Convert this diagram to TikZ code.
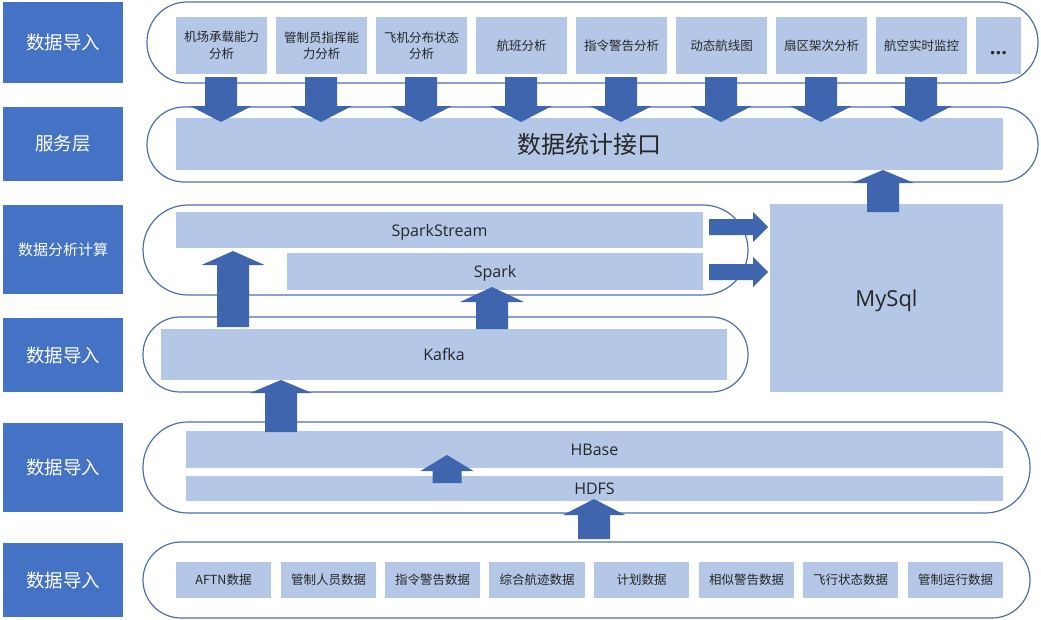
\documentclass[tikz,border=0pt]{standalone}
\usepackage{fontspec}
\setmainfont{Open Sans}
\newfontfamily\cjk{Noto Sans CJK SC}
\definecolor{darkb}{HTML}{4472C4}
\definecolor{lightb}{HTML}{B4C7E7}
\definecolor{arrb}{HTML}{3F65AE}
\definecolor{rimb}{HTML}{4F6FAA}
\tikzset{
  lab/.style={fill=darkb, text=white, inner sep=0pt, font=\cjk\fontsize{18.5}{20}\selectfont},
  cont/.style={draw=rimb, line width=1.2pt},
  ibox/.style={fill=lightb, inner sep=0pt, text=black!85, align=center},
  itemtxt/.style={font=\cjk\fontsize{12.5}{16.5}\selectfont},
  latin/.style={font=\fontsize{16}{18}\selectfont, text depth=0pt},
  blk/.style={fill=arrb},
}
% box from (x1,y1) to (x2,y2), y downwards
\newcommand\bx[6][]{\node[#1, minimum width={#4-#2}, minimum height={#5-#3}] (#6) at ({(#2+#4)/2},{(#3+#5)/2})}
% vertical block arrow: cx, tail y, head-base y, tip y, shaft half, head half
\newcommand\varrow[6]{\fill[blk] (#1-#5,#2) -- (#1-#5,#3) -- (#1-#6,#3) -- (#1,#4) -- (#1+#6,#3) -- (#1+#5,#3) -- (#1+#5,#2) -- cycle;}
% horizontal block arrow: cy, tail x, head-base x, tip x, shaft half, head half
\newcommand\harrow[6]{\fill[blk] (#2,#1-#5) -- (#3,#1-#5) -- (#3,#1-#6) -- (#4,#1) -- (#3,#1+#6) -- (#3,#1+#5) -- (#2,#1+#5) -- cycle;}
\begin{document}
\begin{tikzpicture}[x=1pt,y=-1pt]
\useasboundingbox[fill=white] (0,0) rectangle (1041,619);
% left labels
\bx[lab]{3}{2}{123}{83}{L1} {数据导入};
\bx[lab]{3}{107}{123}{181}{L2} {服务层};
\bx[lab, font=\cjk\fontsize{15}{17}\selectfont]{3}{205}{123}{294}{L3} {数据分析计算};
\bx[lab]{3}{318}{123}{392}{L4} {数据导入};
\bx[lab]{3}{423}{123}{512}{L5} {数据导入};
\bx[lab]{3}{543}{123}{617}{L6} {数据导入};
% containers
\draw[cont, rounded corners=40pt] (147,2) rectangle (1038,83);
\draw[cont, rounded corners=37pt] (147,107) rectangle (1038,182);
\draw[cont, rounded corners=45pt] (143,205) rectangle (748,295);
\draw[cont, rounded corners=37pt] (143,317) rectangle (748,392);
\draw[cont, rounded corners=45pt] (143,422) rectangle (1030,513);
\draw[cont, rounded corners=38pt] (143,542) rectangle (1030,618);
% row 1 items
\bx[ibox,itemtxt]{176}{17}{267}{74}{a1} {机场承载能力\\分析};
\bx[ibox,itemtxt]{276}{17}{367}{74}{a2} {管制员指挥能\\力分析};
\bx[ibox,itemtxt]{376}{17}{467}{74}{a3} {飞机分布状态\\分析};
\bx[ibox,itemtxt]{476}{17}{567}{74}{a4} {航班分析};
\bx[ibox,itemtxt]{576}{17}{667}{74}{a5} {指令警告分析};
\bx[ibox,itemtxt]{676}{17}{767}{74}{a6} {动态航线图};
\bx[ibox,itemtxt]{776}{17}{867}{74}{a7} {扇区架次分析};
\bx[ibox,itemtxt]{876}{17}{967}{74}{a8} {航空实时监控};
\bx[ibox,font=\bfseries\fontsize{20}{22}\selectfont, text height=17pt, text depth=0pt]{976}{17}{1021}{74}{a9} {...};
% row 2
\bx[ibox,font=\cjk\fontsize{24}{26}\selectfont]{176}{118}{1003}{170}{api} {数据统计接口};
% analysis
\bx[ibox,latin]{176}{212}{703}{248}{ss} {SparkStream};
\bx[ibox,latin]{287}{253}{703}{290}{sp} {Spark};
\bx[ibox,latin,font=\fontsize{22}{24}\selectfont]{770}{204}{1003}{392}{my} {MySql};
\bx[ibox,latin]{161}{329}{727}{380}{kf} {Kafka};
\bx[ibox,latin]{186}{431}{1003}{468}{hb} {HBase};
\bx[ibox,latin]{186}{476}{1003}{501}{hd} {HDFS};
% row 6 items
\bx[ibox,itemtxt]{176}{562}{271}{598}{d1} {AFTN数据};
\bx[ibox,itemtxt]{281}{562}{376}{598}{d2} {管制人员数据};
\bx[ibox,itemtxt]{385}{562}{480}{598}{d3} {指令警告数据};
\bx[ibox,itemtxt]{489}{562}{585}{598}{d4} {综合航迹数据};
\bx[ibox,itemtxt]{594}{562}{689}{598}{d5} {计划数据};
\bx[ibox,itemtxt]{699}{562}{794}{598}{d6} {相似警告数据};
\bx[ibox,itemtxt]{803}{562}{898}{598}{d7} {飞行状态数据};
\bx[ibox,itemtxt]{908}{562}{1003}{598}{d8} {管制运行数据};
% arrows
\foreach \cx in {221,321,421,521,621,721,821,921} {\varrow{\cx}{77}{106}{122}{16}{31}}
\varrow{883}{212}{183}{170}{16}{31}
\varrow{233}{327}{265}{251}{16}{31.5}
\varrow{492}{329}{302}{287}{16}{32}
\varrow{281}{432}{393}{380}{16}{31}
\varrow{447}{483}{471}{455}{14.5}{26.5}
\varrow{594}{539}{515}{499}{16}{31}
\harrow{227}{709}{753}{768}{8}{15}
\harrow{272}{709}{753}{768}{8}{15}
\end{tikzpicture}
\end{document}
